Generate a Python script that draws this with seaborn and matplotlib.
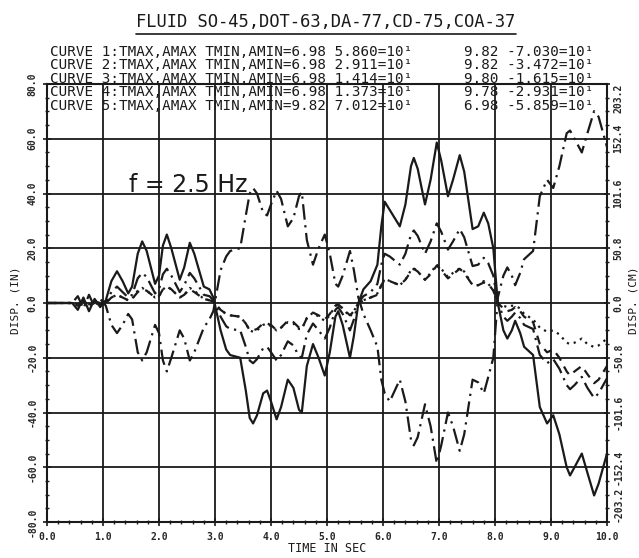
import matplotlib
matplotlib.use("Agg")
import matplotlib.pyplot as plt
from matplotlib.lines import Line2D
from matplotlib.ticker import MultipleLocator
import pandas as pd
import seaborn as sns

# time keypoints (s)
t = [0.00, 0.45, 0.55, 0.65, 0.75, 0.85, 0.95, 1.05, 1.15, 1.25,
     1.35, 1.45, 1.52, 1.62, 1.70, 1.78, 1.93, 2.00, 2.07, 2.14,
     2.22, 2.37, 2.45, 2.55, 2.63, 2.80, 2.90, 2.97, 3.10, 3.20,
     3.27, 3.45, 3.55, 3.62, 3.68, 3.75, 3.86, 3.93, 4.00, 4.10,
     4.18, 4.30, 4.40, 4.50, 4.55, 4.64, 4.75, 4.85, 4.96, 5.05,
     5.15, 5.20, 5.28, 5.41, 5.48, 5.56, 5.65, 5.78, 5.90, 5.97,
     6.03, 6.12, 6.30, 6.40, 6.50, 6.55, 6.62, 6.75, 6.85, 6.96,
     7.04, 7.16, 7.25, 7.37, 7.45, 7.60, 7.70, 7.80, 7.88, 7.97,
     8.05, 8.15, 8.22, 8.30, 8.36, 8.45, 8.52, 8.68, 8.80, 8.93,
     9.04, 9.15, 9.28, 9.34, 9.42, 9.55, 9.65, 9.77, 9.85, 10.00]

# displacement (in) for each curve
curve1 = [0, 0, -2.5, 2, -3, 1.5, -1.5, 1, 8, 11.6,
          8, 3.5, 6, 18, 22.5, 19, 7, 10, 21, 25,
          20, 8.5, 13, 22, 18, 6, 5, 2, -10, -17,
          -19, -20, -32, -42, -44, -41, -33, -32, -36, -42.5,
          -38, -28, -31, -39, -40, -23, -15, -20, -26.5, -18,
          -5, -3, -8, -20, -12, 0, 5, 8, 14, 28,
          37, 34, 28, 36, 50, 53, 49, 36, 45, 58.6,
          52, 39, 45, 54, 48, 27, 28, 33, 29, 20,
          0, -10, -13, -10, -6.5, -11, -16, -19, -38, -44,
          -41, -48, -60, -63, -60, -55, -62, -70.3, -66, -55]

curve2 = [0, 0, -1, 1, -1.5, 1, -0.5, 0.5, 4, 6,
          4, 2, 3, 9, 11, 9.5, 3.5, 5, 10.5, 12.5,
          10, 4, 6.5, 11, 9, 3, 2.5, 1, -5, -8.5,
          -9.5, -10, -16, -21, -22, -20.5, -16.5, -16, -18, -21,
          -19, -14, -15.5, -19.5, -20, -11.5, -7.5, -10, -13, -9,
          -2.5, -1.5, -4, -10, -6, 0, 2.5, 4, 7, 14,
          18, 17, 14, 18, 25, 26.5, 24.5, 18, 22.5, 29.1,
          26, 19.5, 22.5, 27, 24, 13.5, 14, 16.5, 14.5, 10,
          0, -5, -6.5, -5, -3.5, -5.5, -8, -9.5, -19, -22,
          -20.5, -24, -30, -31.5, -30, -27, -31, -34.7, -33, -27.5]

curve3 = [0, 0, -0.5, 0.5, -0.5, 0.5, 0, 0, 2, 3,
          2, 1, 1.5, 4.5, 5.5, 4.5, 2, 2.5, 5, 6,
          5, 2, 3, 5.5, 4.5, 1.5, 1, 0.5, -2.5, -4,
          -4.5, -5, -7.5, -10, -10.5, -10, -8, -7.5, -8.5, -10,
          -9, -7, -7.5, -9.5, -9.5, -5.5, -3.5, -5, -6.5, -4.5,
          -1, -0.5, -2, -5, -3, 0, 1, 2, 3.5, 6.5,
          9, 8, 6.5, 8.5, 12, 12.7, 11.5, 8.5, 11, 14.1,
          12.5, 9.5, 11, 12.7, 11.5, 6.5, 6.5, 8, 7, 4.8,
          0, -1, -1.5, -1, -1, -2, -4, -6, -9, -10.5,
          -10, -11.5, -14.5, -15, -14.5, -13, -15, -16.1, -15.5, -13]

curve4 = [0, 0, -0.5, 0.5, -0.5, 0.5, 0, 0, 2, 3,
          2, 1, 1.5, 4, 5, 4.5, 2, 2.5, 5, 6,
          5, 2, 3, 5, 4, 1.5, 1, 0.5, -2.5, -4,
          -4.5, -5, -7.5, -10, -10, -9.5, -7.5, -7.5, -8, -10,
          -9, -6.5, -7, -9, -9.5, -5.5, -3.5, -4.5, -6, -4,
          -1, -0.5, -2, -4.5, -3, 0, 1, 2, 3, 6.5,
          8.5, 8, 6.5, 8.5, 11.5, 12.5, 11.5, 8.5, 10.5, 13.7,
          12, 9, 10.5, 12.5, 11, 6.5, 6.5, 7.5, 7, 4.5,
          0, -2, -3, -2.5, -1.5, -3, -5, -7, -15, -18,
          -17, -20, -25, -26.5, -25, -23, -26, -29.3, -28, -23]

curve5 = [0, 0, 2.5, -2, 3, -1.5, 1.5, -1, -8, -11,
          -8, -4, -6, -18, -21, -18, -8, -11, -21, -25,
          -20, -10, -13, -21, -18, -9, -6, -3, 12, 17,
          19, 20, 32, 40, 42, 40, 33, 32, 36, 41,
          38, 28, 31, 39, 40.5, 23, 14, 20, 25, 18,
          7, 6, 10, 19, 12, 2, -4, -10, -16, -28,
          -33, -36, -28, -36, -50, -52, -49, -37, -45, -58.6,
          -52, -40, -45, -54, -48, -28, -29, -33, -27, -20,
          2, 10, 13, 10, 6.5, 11, 16, 19, 39, 45,
          42, 50, 62, 63, 60, 55, 62, 70.1, 68, 57]

curve_names = ["1", "2", "3", "4", "5"]
line_dashes = {"1": "", "2": (7, 2.5, 1, 2.5), "3": (1, 2.2),
               "4": (4, 3), "5": (7, 2.5, 1, 2.5)}

title = "FLUID SO-45,DOT-63,DA-77,CD-75,COA-37"
table_rows = [
    "CURVE 1:TMAX,AMAX TMIN,AMIN=6.98 5.860=10¹      9.82 -7.030=10¹",
    "CURVE 2:TMAX,AMAX TMIN,AMIN=6.98 2.911=10¹      9.82 -3.472=10¹",
    "CURVE 3:TMAX,AMAX TMIN,AMIN=6.98 1.414=10¹      9.80 -1.615=10¹",
    "CURVE 4:TMAX,AMAX TMIN,AMIN=6.98 1.373=10¹      9.78 -2.931=10¹",
    "CURVE 5:TMAX,AMAX TMIN,AMIN=9.82 7.012=10¹      6.98 -5.859=10¹",
]
x_ticks = [0, 1, 2, 3, 4, 5, 6, 7, 8, 9, 10]
y_ticks_in = [-80, -60, -40, -20, 0, 20, 40, 60, 80]
y_ticks_cm = [-203.2, -152.4, -101.6, -50.8, 0.0, 50.8, 101.6, 152.4, 203.2]

sns.set_theme(style="white")
plt.rcParams['font.family'] = ['DejaVu Sans Mono', 'DejaVu Sans']

W, H = 639, 558
fig = plt.figure(figsize=(W / 100, H / 100), dpi=100)
ax = fig.add_axes([47 / W, 36 / H, 560 / W, 438 / H])

df = pd.DataFrame({"t": t, "1": curve1, "2": curve2, "3": curve3,
                   "4": curve4, "5": curve5})
long = df.melt(id_vars="t", var_name="curve", value_name="disp")
sns.lineplot(data=long, x="t", y="disp", hue="curve", style="curve",
             hue_order=curve_names, style_order=curve_names,
             palette={c: "#1a1a1a" for c in curve_names}, dashes=line_dashes,
             estimator=None, sort=False, legend=False, linewidth=1.6, ax=ax)

ax.set_xlim(0, 10)
ax.set_ylim(-80, 80)
ax.set_xticks(x_ticks)
ax.set_xticklabels([f"{v:.1f}" for v in x_ticks], fontsize=7, fontweight="bold")
ax.set_yticks(y_ticks_in)
ax.set_yticklabels([f"{v:.1f}" for v in y_ticks_in], fontsize=7,
                   fontweight="bold", rotation=90, va="center")
ax.xaxis.set_minor_locator(MultipleLocator(0.2))
ax.yaxis.set_minor_locator(MultipleLocator(5))
ax.tick_params(which="major", direction="inout", length=6, width=1.2,
               color="#1a1a1a", pad=4, bottom=True, left=True)
ax.tick_params(which="minor", direction="inout", length=3, width=1,
               color="#1a1a1a", bottom=True, left=True)
ax.grid(True, which="major", color="#1a1a1a", linewidth=1.3)
ax.set_xlabel("")
ax.set_ylabel("")
for s in ax.spines.values():
    s.set_color("#1a1a1a")
    s.set_linewidth(1.5)

ax2 = ax.twinx()
ax2.set_ylim(-203.2, 203.2)
ax2.set_yticks(y_ticks_cm)
cm_labels = ax2.set_yticklabels([f"{v:.1f}" for v in y_ticks_cm], fontsize=7,
                                fontweight="bold", rotation=90, va="center")
# end labels sit inside the axis span, as on the plotter output
cm_labels[0].set_va("bottom")
cm_labels[-1].set_va("top")
ax2.yaxis.set_minor_locator(MultipleLocator(50.8 / 4))
ax2.tick_params(which="major", direction="inout", length=5, width=1.2,
                color="#1a1a1a", pad=2, right=True)
ax2.tick_params(which="minor", direction="inout", length=3, width=1,
                color="#1a1a1a", right=True)
ax2.grid(False)
for s in ax2.spines.values():
    s.set_visible(False)

ax.text(2.52, 43, "f = 2.5 Hz", fontsize=17, family="DejaVu Sans",
        ha="center", va="center", color="#1a1a1a")

ttl = fig.text(326 / W, 1 - 22 / H, title, fontsize=12.3, ha="center",
               va="center", color="#1a1a1a")
row_y = [52, 65, 79, 92, 106]
for ry, row in zip(row_y, table_rows):
    fig.text(50 / W, 1 - ry / H, row, fontsize=10.3, ha="left", va="center",
             color="#1a1a1a")

fig.text(15 / W, 1 - 300 / H, "DISP. (IN)", rotation=90, fontsize=8,
         ha="center", va="center", color="#1a1a1a")
fig.text(633 / W, 1 - 300 / H, "DISP. (CM)", rotation=90, fontsize=8,
         ha="center", va="center", color="#1a1a1a")
fig.text(327 / W, 1 - 548 / H, "TIME IN SEC", fontsize=8.5, ha="center",
         va="center", color="#1a1a1a")

fig.canvas.draw()
bb = ttl.get_window_extent()
fig.add_artist(Line2D([bb.x0 / W, bb.x1 / W], [(bb.y0 - 3) / H, (bb.y0 - 3) / H],
                      transform=fig.transFigure, color="#1a1a1a", linewidth=1.2))

fig.savefig("out.png", dpi=100)
plt.close(fig)
